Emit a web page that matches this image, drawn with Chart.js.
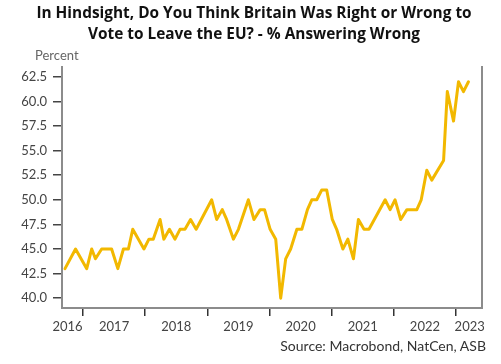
<!DOCTYPE html>
<html>
<head>
<meta charset="utf-8">
<script src="https://cdn.jsdelivr.net/npm/chart.js@4"></script>
<style>
  body { margin: 0; background: #fff; }
  #wrap { position: relative; width: 501px; height: 364px; overflow: hidden; font-family: Lato, "Open Sans", sans-serif; }
  #title { position: absolute; left: 7px; top: 2px; width: 494px; text-align: center; font-family: "Open Sans", sans-serif; font-weight: bold; font-size: 15.4px; line-height: 21px; color: #111; }
  #unit { position: absolute; left: 35px; top: 47px; font-size: 13px; color: #666; }
  #source { position: absolute; right: 15px; top: 337px; font-size: 14px; color: #333; }
  canvas { position: absolute; left: 0; top: 0; }
</style>
</head>
<body>
<div id="wrap">
  <canvas id="line-chart" width="501" height="364"></canvas>
  <div id="title">In Hindsight, Do You Think Britain Was Right or Wrong to<br>Vote to Leave the EU? - % Answering Wrong</div>
  <div id="unit">Percent</div>
  <div id="source">Source: Macrobond, NatCen, ASB</div>
</div>
<script>
// survey dates as fractional years
var dates = [2016.71, 2016.88, 2017.06, 2017.14, 2017.20, 2017.30, 2017.46, 2017.56, 2017.65, 2017.73,
  2017.80, 2017.98, 2018.06, 2018.13, 2018.24, 2018.30, 2018.39, 2018.48, 2018.56, 2018.64,
  2018.73, 2018.82, 2019.07, 2019.15, 2019.24, 2019.31, 2019.42, 2019.50, 2019.66, 2019.75,
  2019.85, 2019.92, 2020.01, 2020.10, 2020.18, 2020.26, 2020.34, 2020.44, 2020.52, 2020.61,
  2020.68, 2020.76, 2020.84, 2020.92, 2021.01, 2021.08, 2021.18, 2021.26, 2021.35, 2021.43,
  2021.52, 2021.60, 2021.86, 2021.94, 2022.02, 2022.11, 2022.21, 2022.37, 2022.44, 2022.53,
  2022.61, 2022.80, 2022.86, 2022.96, 2023.04, 2023.12, 2023.20];
var wrong = [43, 45, 43, 45, 44, 45, 45, 43, 45, 45,
  47, 45, 46, 46, 48, 46, 47, 46, 47, 47,
  48, 47, 50, 48, 49, 48, 46, 47, 50, 48,
  49, 49, 47, 46, 40, 44, 45, 47, 47, 49,
  50, 50, 51, 51, 48, 47, 45, 46, 44, 48,
  47, 47, 50, 49, 50, 48, 49, 49, 50, 53,
  52, 54, 61, 58, 62, 61, 62];

var yTicks = [40, 42.5, 45, 47.5, 50, 52.5, 55, 57.5, 60, 62.5];
var yearTicks = [2017, 2018, 2019, 2020, 2021, 2022, 2023];
var yearLabels = ["2016", "2017", "2018", "2019", "2020", "2021", "2022", "2023"];
var yearLabelPos = [2016.75, 2017.5, 2018.5, 2019.5, 2020.5, 2021.5, 2022.5, 2023.22];

var xMin = 2016.662, xMax = 2023.418;

var points = dates.map(function (d, i) { return {x: d, y: wrong[i]}; });

new Chart(document.getElementById("line-chart"), {
  type: 'line',
  data: {
    datasets: [{
      label: "% Answering Wrong",
      data: points,
      borderColor: "#F2B800",
      borderWidth: 3,
      borderJoinStyle: 'round',
      borderCapStyle: 'round',
      pointRadius: 0,
      tension: 0,
      fill: false
    }]
  },
  options: {
    responsive: false,
    animation: false,
    layout: {padding: {left: 0, top: 67, right: 19, bottom: 18}},
    plugins: {legend: {display: false}, title: {display: false}, tooltip: {enabled: false}},
    scales: {
      x: {
        type: 'linear', position: 'bottom', min: xMin, max: xMax, weight: 0,
        afterBuildTicks: function (s) { s.ticks = yearTicks.map(function (v) { return {value: v}; }); },
        afterFit: function (s) { s.height = 8; },
        ticks: {display: false},
        grid: {drawOnChartArea: false, drawTicks: true, tickLength: 8, color: '#333', lineWidth: 1.5},
        border: {display: true, color: '#8c8c8c', width: 2}
      },
      x2: {
        type: 'linear', position: 'bottom', min: xMin, max: xMax, weight: 1,
        afterBuildTicks: function (s) { s.ticks = yearLabelPos.map(function (v) { return {value: v}; }); },
        afterFit: function (s) { s.height = 30; },
        ticks: {
          autoSkip: false, maxRotation: 0, padding: 3, color: '#444',
          font: {family: 'Lato', size: 13},
          callback: function (v, i) { return yearLabels[i]; }
        },
        grid: {display: false, drawTicks: false},
        border: {display: false}
      },
      y: {
        type: 'linear', position: 'left', min: 39, max: 63.5,
        afterBuildTicks: function (s) { s.ticks = yTicks.map(function (v) { return {value: v}; }); },
        afterFit: function (s) { s.width = 62; },
        ticks: {
          padding: 6, color: '#444', font: {family: 'Lato', size: 13},
          callback: function (v) { return v.toFixed(1); }
        },
        grid: {drawOnChartArea: false, drawTicks: true, tickLength: 9, color: '#444', lineWidth: 1.5},
        border: {display: true, color: '#8c8c8c', width: 2}
      },
      y2: {
        type: 'linear', position: 'right',
        afterFit: function (s) { s.width = 0; },
        ticks: {display: false},
        grid: {drawOnChartArea: false, drawTicks: false},
        border: {display: true, color: '#8c8c8c', width: 2}
      }
    }
  }
});
</script>
</body>
</html>
